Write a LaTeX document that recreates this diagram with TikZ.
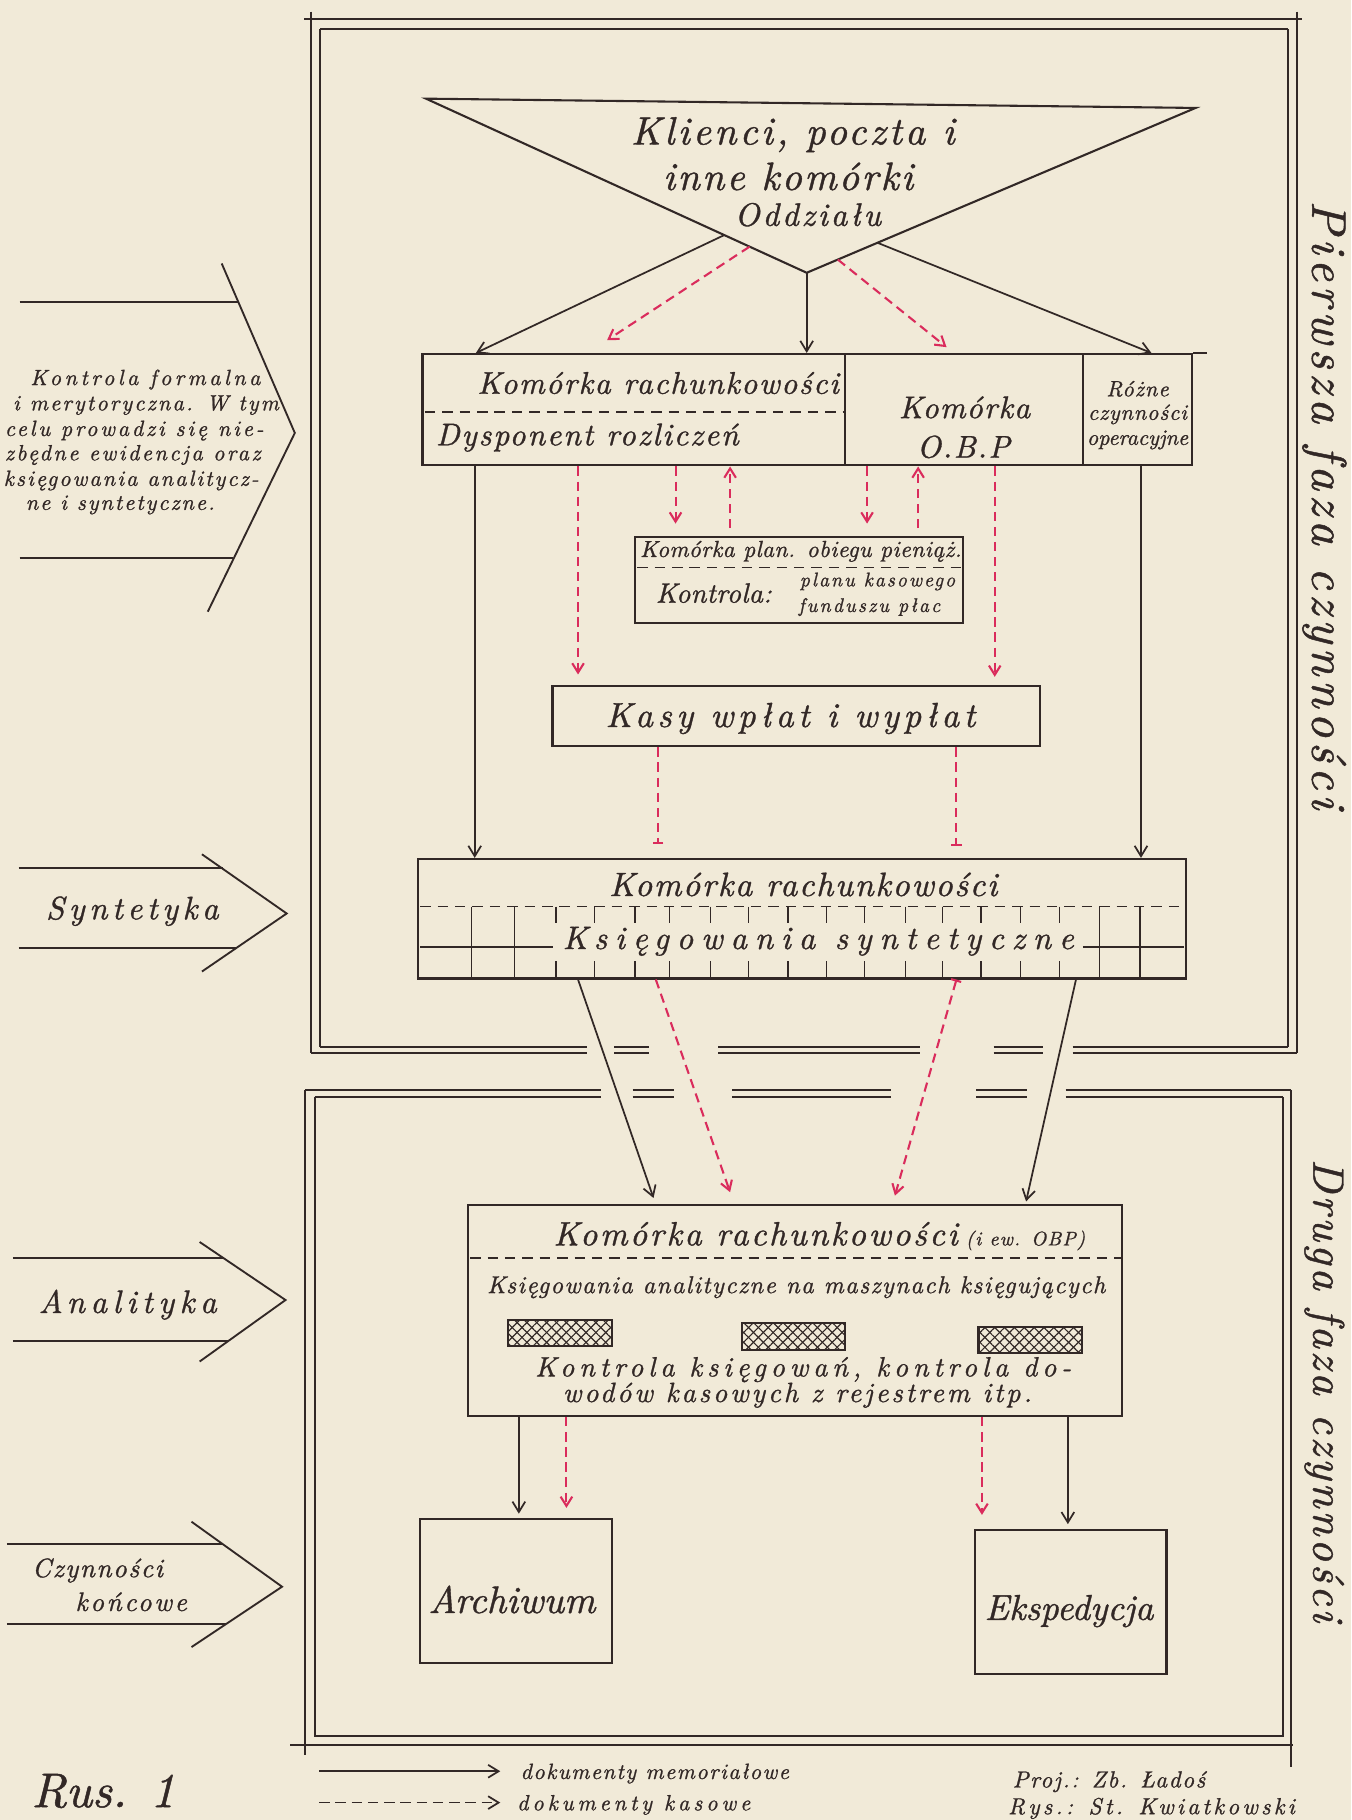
\documentclass[tikz,border=0pt]{standalone}
\usepackage{fontspec}
\setmainfont{lmroman10}[Extension=.otf, UprightFont=*-regular, ItalicFont=*-italic, BoldFont=*-bold, BoldItalicFont=*-bolditalic]
\usepackage{tikz}
\usetikzlibrary{arrows.meta, calc, patterns.meta}
\definecolor{paper}{RGB}{241,234,216}
\definecolor{ink}{RGB}{50,40,38}
\definecolor{kasa}{RGB}{218,44,92}
\tikzset{
  hw/.style={font=\fontsize{#1}{#1}\selectfont\itshape, text=ink},
  ls/.style={execute at begin node={\addfontfeature{LetterSpace=#1, FakeBold=1}}},
  box/.style={draw=ink, line width=1.8pt, inner sep=0pt},
  split/.style={draw=ink, line width=1.5pt, dash pattern=on 9pt off 6pt},
  ledger/.style={draw=ink, line width=1.2pt},
  ramka/.style={draw=ink, line width=1.7pt},
  chev/.style={draw=ink, line width=1.6pt},
  memo/.style={draw=ink, line width=1.5pt, arrows={-Straight Barb[length=9pt,width=11pt]}},
  kas/.style={draw=kasa, line width=1.8pt, dash pattern=on 8pt off 5pt, arrows={-Straight Barb[length=8pt,width=10pt]}},
  kasend/.style={draw=kasa, line width=1.8pt, dash pattern=on 8pt off 5pt, arrows={-Bar[width=9pt]}},
  kasbar/.style={draw=kasa, line width=1.8pt, dash pattern=on 8pt off 5pt, arrows={Bar[width=9pt]-Straight Barb[length=8pt,width=10pt]}},
}

\begin{document}
\begin{tikzpicture}[x=1pt, y=-1pt]
  \fill[paper] (0,0) rectangle (1164,1568);
  \useasboundingbox (0,0) rectangle (1164,1568);

  % upper frame
  \draw[ramka] (262,16) -- (1122,16);
  \draw[ramka] (276,25) -- (1110,25);
  \draw[ramka] (268,10) -- (268,907);
  \draw[ramka] (276,25) -- (276,902);
  \draw[ramka] (1117,10) -- (1117,907);
  \draw[ramka] (1110,25) -- (1110,902);
  \foreach \a/\b in {268/506, 529/559, 619/793, 856/899, 924/1117}
    \draw[ramka] (\a,907) -- (\b,907);
  \foreach \a/\b in {276/506, 529/559, 619/793, 856/899, 924/1110}
    \draw[ramka] (\a,902) -- (\b,902);
  % lower frame
  \foreach \a/\b in {263/518, 545/581, 631/768, 841/885, 918/1112}
    \draw[ramka] (\a,939) -- (\b,939);
  \foreach \a/\b in {271/518, 545/581, 631/768, 841/885, 918/1105}
    \draw[ramka] (\a,945) -- (\b,945);
  \draw[ramka] (263,939) -- (263,1512);
  \draw[ramka] (271,945) -- (271,1496) -- (1105,1496) -- (1105,945);
  \draw[ramka] (250,1503) -- (1114,1503);
  \draw[ramka] (1112,939) -- (1112,1522);

  \node[hw=42, ls=10, rotate=-90] (faza1) at (1141,435) {Pierwsza faza czynności};
  \node[hw=38, ls=7, rotate=-90] (faza2) at (1141,1198) {Druga faza czynności};

  % clients
  \coordinate (tl) at (367,85);
  \coordinate (tr) at (1030,93);
  \coordinate (apex) at (695,235);
  \draw[box] (tl) -- (tr) -- (apex) -- cycle;
  \node[hw=34, ls=8] (klienci) at (683,116) {Klienci, poczta i};
  \node[hw=34, ls=6] (inne) at (679,152) {inne komórki};
  \node[hw=28, ls=9] (oddzial) at (696,185) {Oddziału};

  % first row
  \node[box, minimum width=364pt, minimum height=96pt] (rach) at (546,353) {};
  \node[box, minimum width=205pt, minimum height=96pt] (obp) at (830.5,353) {};
  \node[box, minimum width=94pt, minimum height=96pt] (rozne) at (980,353) {};
  \draw[box] (rozne.north east) -- ++(12,0);
  \draw[split] (366,355) -- (728,355);
  \node[hw=27, ls=5] (rachA) at (567,330) {Komórka rachunkowości};
  \node[hw=27, ls=6] (rachB) at (506,377) {Dysponent rozliczeń};
  \node[hw=27, ls=4] (obpA) at (831,351) {Komórka};
  \node[hw=27, ls=5] (obpB) at (830,385) {O.B.P};
  \node[hw=19, ls=5] (rozA) at (980,335) {Różne};
  \node[hw=19, ls=4] (rozB) at (980,357) {czynności};
  \node[hw=19, ls=0] (rozC) at (980,379) {operacyjne};

  \node[box, minimum width=283pt, minimum height=74pt] (plan) at (688.5,500) {};
  \draw[split] (549,489) -- (830,489);
  \node[hw=20, ls=2] (planA) at (690,475) {Komórka plan. obiegu pieniąż.};
  \node[hw=24, ls=1] (planB) at (615,511) {Kontrola:};
  \node[hw=17, ls=10] (planC) at (756,501) {planu kasowego};
  \node[hw=17, ls=11] (planD) at (749,523) {funduszu płac};

  \node[box, minimum width=420pt, minimum height=52pt] (kasy) at (686,617) {};
  \node[hw=30, ls=13] (kasyT) at (681,619) {Kasy wpłat i wypłat};

  \node[box, minimum width=662pt, minimum height=103pt] (synt) at (691,791.5) {};
  \node[hw=29, ls=5] (syntA) at (692,762) {Komórka rachunkowości};
  \draw[split] (362,781) -- (1020,781);
  \foreach \x in {406,443,947,982}
    \draw[ledger] (\x,781) -- (\x,843);
  \foreach \x in {479,512,547,577,612,645,679,712,745,780,812,845,879,913} {
    \draw[ledger] (\x,781) -- (\x,795);
    \draw[ledger] (\x,828) -- (\x,843);
  }
  \draw[ledger] (362,816) -- (476,816);
  \draw[ledger] (933,816) -- (1020,816);
  \node[hw=28, ls=24] (syntB) at (705,811) {Księgowania syntetyczne};

  % second phase
  \node[box, minimum width=564pt, minimum height=182pt] (anal) at (685,1129) {};
  \node[hw=29, ls=7.5] (analA) at (651,1063) {Komórka rachunkowości};
  \node[hw=17, ls=6, anchor=base west] (analB) at (analA.base east) {(i ew. OBP)};
  \draw[split] (405,1084) -- (967,1084);
  \node[hw=21, ls=6] (analC) at (686,1109) {Księgowania analityczne na maszynach księgujących};
  \foreach \a/\b in {438/1137, 639/1140, 843/1143} {
    \path[pattern={Lines[angle=45,distance=6pt,line width=1pt]}, pattern color=ink] (\a,\b) rectangle ++(89,23);
    \path[pattern={Lines[angle=-45,distance=6pt,line width=1pt]}, pattern color=ink] (\a,\b) rectangle ++(89,23);
    \draw[box] (\a,\b) rectangle ++(89,23);
  }
  \node[hw=24, ls=17.5] (analD) at (692,1180) {Kontrola księgowań, kontrola do-};
  \node[hw=24, ls=10.5] (analE) at (687,1202) {wodów kasowych z rejestrem itp.};

  \node[box, minimum width=165pt, minimum height=124pt] (arch) at (444.5,1371) {};
  \node[hw=33, ls=0] (archT) at (441,1378) {Archiwum};
  \node[box, minimum width=165pt, minimum height=124pt] (eksp) at (922.5,1380) {};
  \node[hw=31, ls=0] (ekspT) at (921,1388) {Ekspedycja};

  % connectors
  \draw[memo] ($(tl)!0.7835!(apex)$) -- ([xshift=-136pt]rach.north);
  \draw[memo] (apex) -- ([xshift=149pt]rach.north);
  \draw[memo] ($(tr)!0.818!(apex)$) -- ([xshift=12pt]rozne.north);
  \draw[kas] ($(tl)!0.85!(apex)$) -- ([xshift=-23pt,yshift=11pt]rach.north);
  \draw[kas] ($(tr)!0.92!(apex)$) -- ([xshift=-15pt,yshift=5pt]obp.north);

  \draw[memo] ([xshift=-137pt]rach.south) -- ([xshift=-282pt]synt.north);
  \draw[memo] ([xshift=3pt]rozne.south) -- ([xshift=292pt]synt.north);
  \draw[kas] ([xshift=-48pt]rach.south) -- ([xshift=-188pt,yshift=9pt]kasy.north);
  \draw[kas] ([xshift=36pt]rach.south) -- ([xshift=-106.5pt,yshift=11pt]plan.north);
  \draw[kas] ([xshift=-59.5pt,yshift=7pt]plan.north) -- ([xshift=83pt]rach.south);
  \draw[kas] ([xshift=-83.5pt]obp.south) -- ([xshift=58.5pt,yshift=11pt]plan.north);
  \draw[kas] ([xshift=102.5pt,yshift=7pt]plan.north) -- ([xshift=-39.5pt]obp.south);
  \draw[kas] ([xshift=26.5pt]obp.south) -- ([xshift=171pt,yshift=7pt]kasy.north);

  \draw[kasend] ([xshift=-119pt]kasy.south) -- ([xshift=-124pt,yshift=12pt]synt.north);
  \draw[kasend] ([xshift=138pt]kasy.south) -- ([xshift=133pt,yshift=10pt]synt.north);

  \draw[memo] ([xshift=-193pt]synt.south) -- ([xshift=-122pt,yshift=5pt]anal.north);
  \draw[kas] ([xshift=-126pt]synt.south) -- ([xshift=-56pt,yshift=10pt]anal.north);
  \draw[kasbar] ([xshift=133pt]synt.south) -- ([xshift=86pt,yshift=7pt]anal.north);
  \draw[memo] ([xshift=236pt]synt.south) -- ([xshift=199pt,yshift=2pt]anal.north);

  \draw[memo] ([xshift=-238pt]anal.south) -- ([xshift=2.5pt,yshift=4pt]arch.north);
  \draw[kas] ([xshift=-197pt]anal.south) -- ([xshift=43.5pt,yshift=9pt]arch.north);
  \draw[kas] ([xshift=161pt]anal.south) -- ([xshift=-76.5pt,yshift=12pt]eksp.north);
  \draw[memo] ([xshift=235pt]anal.south) -- ([xshift=-2.5pt,yshift=4pt]eksp.north);

  % left side
  \draw[chev] (17,260) -- (205,260);
  \draw[chev] (17,481) -- (201,481);
  \draw[chev] (191,227) -- (254,373) -- (179,527);
  \foreach \t/\x/\y/\s in {Kontrola formalna/26/327/16, i merytoryczna. W tym/11/349/10, celu prowadzi się nie-/4/371/13, zbędne ewidencja oraz/4/392/11.5, księgowania analitycz-/3/414/9.5, ne i syntetyczne./22/435/9}
    \node[hw=19, ls=\s, anchor=west, inner sep=0pt] (kf\y) at (\x,\y) {\t};

  \draw[chev] (16,748) -- (192,748);
  \draw[chev] (16,817) -- (203,817);
  \draw[chev] (174,736) -- (247,787) -- (174,837);
  \node[hw=28, ls=14] (syntL) at (114,785) {Syntetyka};

  \draw[chev] (11,1084) -- (193,1084);
  \draw[chev] (11,1155) -- (197,1155);
  \draw[chev] (172,1070) -- (246,1120) -- (172,1173);
  \node[hw=28, ls=17] (analL) at (110,1124) {Analityka};

  \draw[chev] (6,1330) -- (191,1330);
  \draw[chev] (6,1399) -- (195,1399);
  \draw[chev] (165,1311) -- (243,1367) -- (165,1419);
  \node[hw=23, ls=6] (czynL) at (84,1353) {Czynności};
  \node[hw=23, ls=10] (konL) at (113,1380) {końcowe};

  % legend
  \coordinate (lm1) at (275,1526);
  \coordinate (lm2) at (431,1526);
  \draw[memo] (lm1) -- (lm2);
  \node[hw=19, ls=7, anchor=west] (legm) at (445,1528) {dokumenty memoriałowe};
  \coordinate (lk1) at (275,1553);
  \coordinate (lk2) at (431,1553);
  \draw[memo, dash pattern=on 9pt off 5pt] (lk1) -- (lk2);
  \node[hw=19, ls=18, anchor=west] (legk) at (442,1555) {dokumenty kasowe};

  \node[hw=42, ls=0, inner sep=0pt] (rys) at (89,1543) {Rus. 1};
  \node[hw=20, ls=7, anchor=west] (proj) at (869,1535) {Proj.: Zb. Ładoś};
  \node[hw=20, ls=14, anchor=west] (autor) at (865,1558) {Rys.: St. Kwiatkowski};
\end{tikzpicture}
\end{document}
